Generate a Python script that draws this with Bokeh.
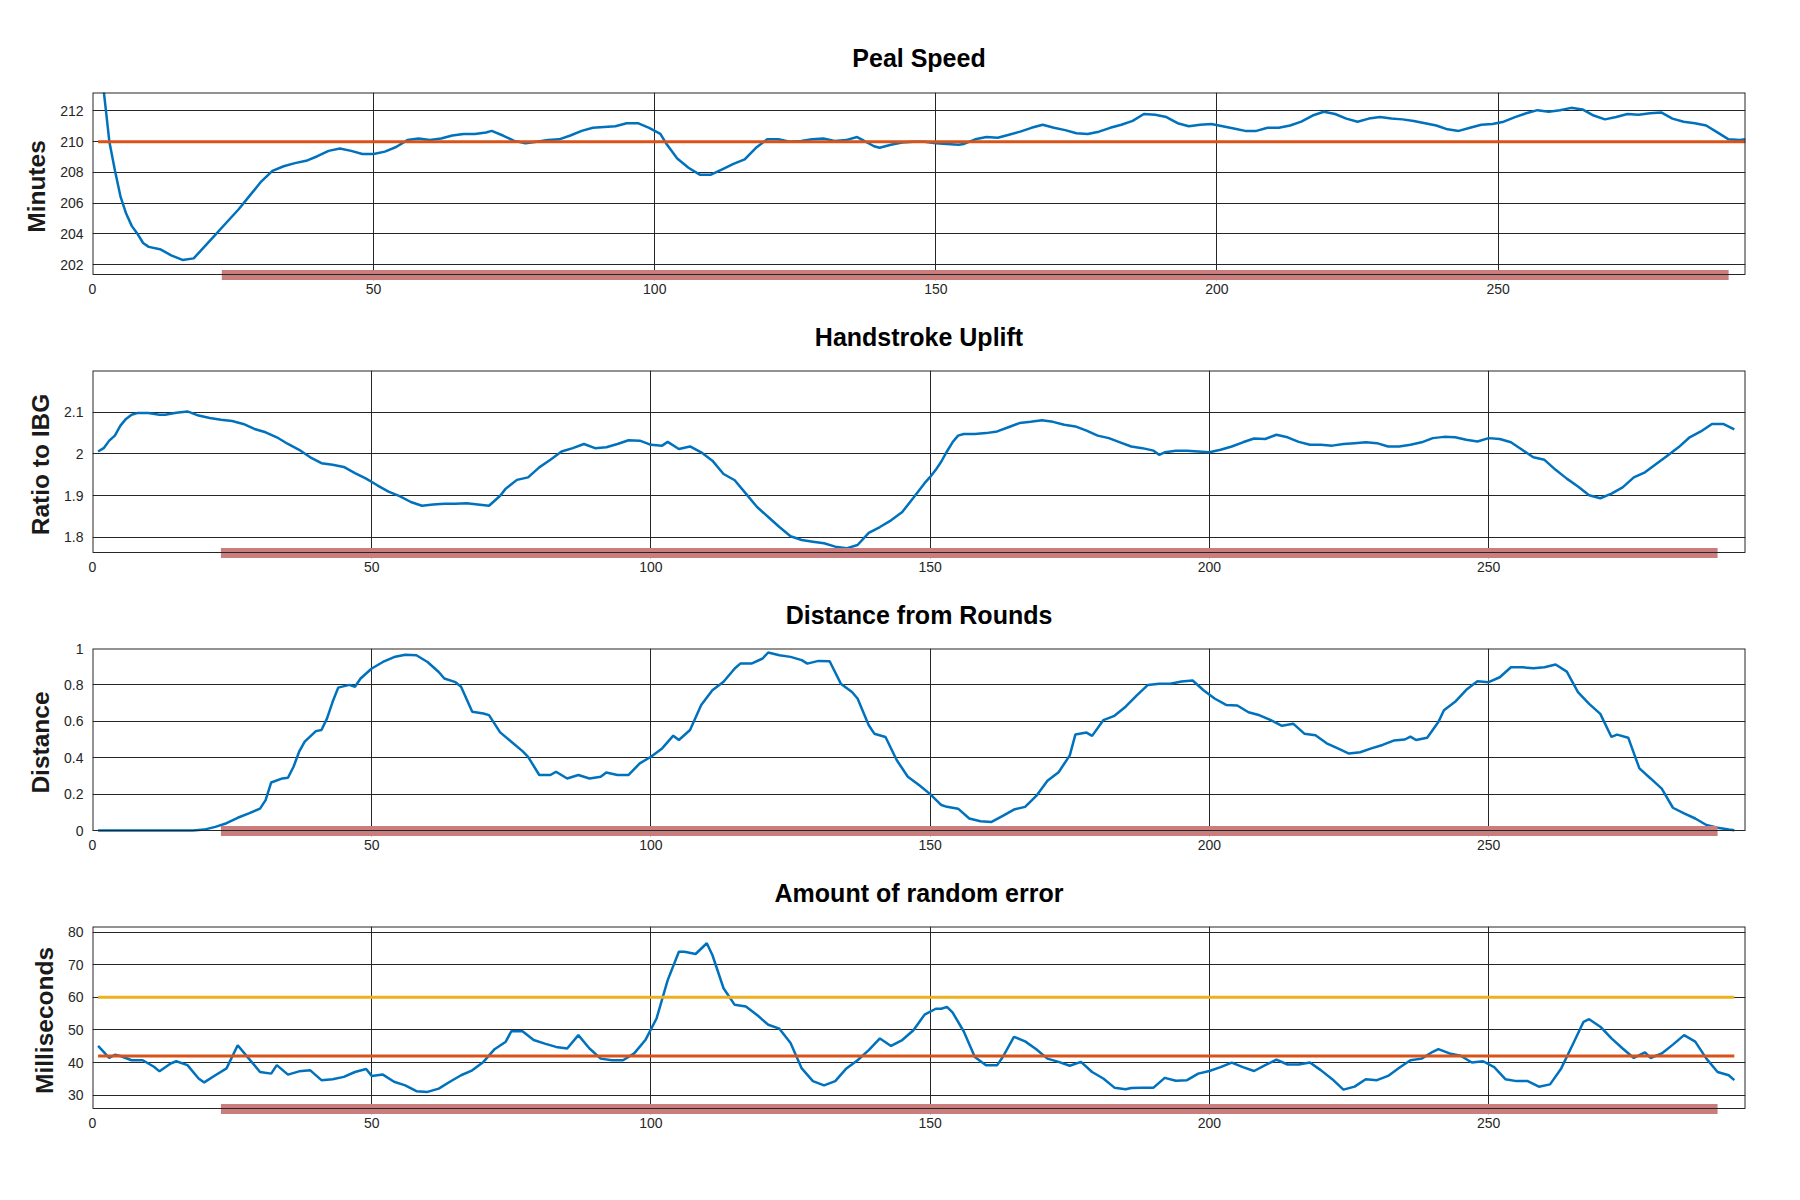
from bokeh.plotting import figure
from bokeh.layouts import column
from bokeh.models import FixedTicker, NumeralTickFormatter
from bokeh.embed import file_html
from bokeh.resources import INLINE

# ---------------- data ----------------
titles = ["Peal Speed", "Handstroke Uplift", "Distance from Rounds", "Amount of random error"]
ylabels = ["Minutes", "Ratio to IBG", "Distance", "Milliseconds"]
x_ticks = [0, 50, 100, 150, 200, 250]
x_limits = [294, 296, 296, 296]
y_limits = [(201.35, 213.2), (1.764, 2.2), (0.0, 1.0), (25.9, 81.74)]
y_ticks = [[202, 204, 206, 208, 210, 212],
           [1.8, 1.9, 2.0, 2.1],
           [0, 0.2, 0.4, 0.6, 0.8, 1.0],
           [30, 40, 50, 60, 70, 80]]

# highlighted change range (salmon bar)
bar_start = 23
bar_end = 291

# reference levels
speed_target = 210
error_mean = 42
error_limit = 60

speed_x = [1, 2, 3, 4, 5, 6, 7, 8, 9, 10, 12, 14, 16, 18, 20, 22, 24, 26, 28, 30, 32, 34, 36, 38, 40,
           42, 44, 46, 48, 50, 52, 54, 56, 58, 60, 62, 64, 66, 68, 70, 71, 73, 75, 77, 79, 81, 83, 85,
           87, 89, 91, 93, 95, 97, 99, 101, 102, 104, 106, 108, 110, 112, 114, 116, 118, 120, 122,
           124, 126, 128, 130, 132, 134, 136, 137, 139, 140, 142, 144, 146, 148, 150, 152, 154, 155,
           157, 159, 161, 163, 165, 167, 169, 171, 173, 175, 177, 179, 181, 183, 185, 187, 189, 191,
           193, 195, 197, 199, 201, 203, 205, 207, 209, 211, 213, 215, 217, 219, 221, 223, 225, 227,
           229, 231, 233, 235, 237, 239, 241, 243, 245, 247, 249, 251, 253, 255, 257, 259, 261, 263,
           265, 267, 269, 271, 273, 275, 277, 279, 281, 283, 285, 287, 289, 291, 293, 294]
speed_y = [217.0, 213.3, 210.0, 208.1, 206.4, 205.3, 204.5, 204.0, 203.4, 203.15, 203.0, 202.6, 202.3,
           202.4, 203.2, 204.0, 204.8, 205.6, 206.5, 207.4, 208.1, 208.4, 208.6, 208.75, 209.05,
           209.4, 209.55, 209.4, 209.2, 209.2, 209.35, 209.65, 210.1, 210.2, 210.1, 210.2, 210.4,
           210.5, 210.5, 210.6, 210.7, 210.4, 210.05, 209.9, 210.0, 210.1, 210.15, 210.4, 210.7,
           210.9, 210.95, 211.0, 211.2, 211.2, 210.9, 210.5, 209.9, 208.9, 208.3, 207.85, 207.85,
           208.2, 208.55, 208.85, 209.6, 210.15, 210.15, 210.0, 210.05, 210.15, 210.2, 210.05, 210.1,
           210.3, 210.1, 209.7, 209.6, 209.8, 209.95, 210.0, 210.0, 209.9, 209.85, 209.8, 209.85,
           210.15, 210.3, 210.25, 210.45, 210.65, 210.9, 211.1, 210.9, 210.75, 210.55, 210.5, 210.65,
           210.9, 211.1, 211.35, 211.8, 211.75, 211.6, 211.2, 211.0, 211.1, 211.15, 211.0, 210.85,
           210.7, 210.7, 210.9, 210.9, 211.05, 211.3, 211.7, 211.95, 211.8, 211.5, 211.3, 211.5,
           211.6, 211.5, 211.45, 211.35, 211.2, 211.05, 210.8, 210.7, 210.9, 211.1, 211.15, 211.3,
           211.6, 211.85, 212.05, 211.95, 212.05, 212.2, 212.1, 211.7, 211.45, 211.6, 211.8, 211.75,
           211.85, 211.9, 211.5, 211.3, 211.2, 211.05, 210.6, 210.15, 210.1, 210.15]

uplift_x = [1, 2, 3, 4, 5, 6, 7, 8, 10, 12, 13, 15, 17, 19, 21, 23, 25, 27, 29, 31, 33, 35, 37, 39,
            41, 43, 45, 47, 49, 51, 53, 55, 57, 59, 61, 63, 65, 67, 69, 71, 73, 74, 76, 78, 80, 82,
            84, 86, 88, 90, 92, 94, 96, 98, 100, 102, 103, 105, 107, 109, 111, 113, 115, 117, 119,
            121, 123, 125, 127, 129, 131, 133, 135, 137, 139, 141, 143, 145, 147, 149, 150, 151, 152,
            153, 154, 155, 156, 158, 160, 162, 164, 166, 168, 170, 172, 174, 176, 178, 180, 182, 184,
            186, 188, 190, 191, 192, 194, 196, 198, 200, 202, 204, 206, 208, 210, 212, 214, 216, 218,
            220, 222, 224, 226, 228, 230, 232, 234, 236, 238, 240, 242, 244, 246, 248, 250, 252, 254,
            256, 258, 260, 262, 264, 266, 268, 270, 272, 274, 276, 278, 280, 282, 284, 286, 288, 290,
            292, 294]
uplift_y = [2.006, 2.014, 2.032, 2.044, 2.068, 2.084, 2.094, 2.098, 2.098, 2.094, 2.094, 2.099, 2.102,
            2.092, 2.086, 2.082, 2.079, 2.072, 2.06, 2.052, 2.04, 2.024, 2.01, 1.992, 1.978, 1.974,
            1.969, 1.954, 1.941, 1.925, 1.91, 1.899, 1.885, 1.876, 1.879, 1.881, 1.881, 1.882, 1.879,
            1.876, 1.9, 1.917, 1.938, 1.944, 1.968, 1.986, 2.006, 2.014, 2.024, 2.014, 2.016, 2.024,
            2.033, 2.032, 2.022, 2.02, 2.029, 2.012, 2.018, 2.004, 1.984, 1.952, 1.937, 1.905, 1.873,
            1.849, 1.825, 1.803, 1.794, 1.79, 1.786, 1.778, 1.774, 1.782, 1.811, 1.825, 1.841, 1.861,
            1.895, 1.93, 1.945, 1.962, 1.982, 2.006, 2.028, 2.044, 2.048, 2.048, 2.05, 2.054, 2.064,
            2.074, 2.077, 2.081, 2.077, 2.07, 2.066, 2.056, 2.044, 2.038, 2.028, 2.018, 2.014, 2.008,
            1.998, 2.004, 2.008, 2.008, 2.006, 2.004, 2.01, 2.018, 2.028, 2.037, 2.036, 2.046, 2.04,
            2.029, 2.022, 2.022, 2.02, 2.024, 2.026, 2.028, 2.026, 2.018, 2.018, 2.022, 2.028, 2.038,
            2.041, 2.04, 2.034, 2.03, 2.038, 2.036, 2.028, 2.01, 1.992, 1.986, 1.962, 1.941, 1.922,
            1.901, 1.894, 1.905, 1.92, 1.944, 1.956, 1.976, 1.996, 2.016, 2.04, 2.054, 2.072, 2.072,
            2.059]

distance_x = [1, 18, 20, 22, 24, 26, 28, 30, 31, 32, 34, 35, 36, 37, 38, 40, 41, 42, 43, 44, 46, 47,
              48, 50, 52, 54, 56, 58, 60, 62, 63, 65, 66, 68, 70, 71, 73, 75, 77, 78, 80, 82, 83, 85,
              87, 89, 91, 92, 94, 96, 98, 100, 102, 104, 105, 107, 109, 111, 113, 115, 116, 118, 120,
              121, 123, 125, 127, 128, 130, 132, 134, 136, 137, 139, 140, 142, 144, 146, 148, 150,
              151, 152, 153, 155, 157, 159, 161, 163, 165, 167, 169, 171, 173, 175, 176, 178, 179,
              181, 183, 185, 187, 189, 191, 193, 195, 197, 199, 201, 203, 205, 207, 209, 211, 213,
              215, 217, 219, 221, 223, 225, 227, 229, 231, 233, 235, 236, 237, 239, 241, 242, 244,
              246, 248, 250, 252, 254, 256, 258, 260, 262, 264, 266, 268, 270, 272, 273, 275, 277,
              279, 281, 283, 285, 287, 289, 291, 293, 294]
distance_y = [0.0, 0.0, 0.005, 0.02, 0.04, 0.07, 0.094, 0.12, 0.167, 0.264, 0.286, 0.29, 0.35, 0.433,
              0.488, 0.546, 0.552, 0.616, 0.707, 0.785, 0.8, 0.79, 0.835, 0.89, 0.926, 0.953, 0.966,
              0.963, 0.926, 0.871, 0.835, 0.815, 0.79, 0.652, 0.643, 0.634, 0.539, 0.488, 0.436,
              0.405, 0.305, 0.305, 0.323, 0.286, 0.305, 0.286, 0.295, 0.319, 0.305, 0.305, 0.369,
              0.405, 0.451, 0.521, 0.497, 0.552, 0.689, 0.771, 0.817, 0.89, 0.917, 0.917, 0.945,
              0.978, 0.963, 0.954, 0.936, 0.917, 0.932, 0.93, 0.807, 0.761, 0.725, 0.578, 0.532,
              0.514, 0.387, 0.295, 0.25, 0.2, 0.17, 0.14, 0.13, 0.12, 0.066, 0.051, 0.047, 0.08,
              0.115, 0.13, 0.19, 0.273, 0.32, 0.413, 0.527, 0.538, 0.52, 0.606, 0.63, 0.68, 0.742,
              0.8, 0.806, 0.806, 0.819, 0.824, 0.769, 0.724, 0.69, 0.687, 0.65, 0.633, 0.606, 0.575,
              0.587, 0.532, 0.523, 0.479, 0.451, 0.423, 0.43, 0.451, 0.47, 0.494, 0.5, 0.516, 0.497,
              0.51, 0.596, 0.661, 0.707, 0.773, 0.82, 0.815, 0.842, 0.897, 0.897, 0.892, 0.897,
              0.912, 0.873, 0.76, 0.696, 0.641, 0.514, 0.527, 0.51, 0.341, 0.286, 0.23, 0.125,
              0.094, 0.066, 0.03, 0.015, 0.005, 0.002]

error_x = [1, 2, 3, 4, 5, 7, 9, 11, 12, 14, 15, 17, 19, 20, 22, 24, 26, 28, 30, 32, 33, 35, 37, 39,
           41, 43, 45, 47, 49, 50, 52, 54, 56, 58, 60, 62, 64, 66, 68, 70, 72, 74, 75, 77, 79, 81, 83,
           85, 87, 89, 91, 93, 95, 97, 99, 101, 103, 105, 106, 108, 110, 111, 113, 115, 117, 119,
           121, 123, 125, 127, 129, 131, 133, 135, 137, 139, 141, 143, 145, 147, 149, 151, 152, 153,
           154, 156, 158, 160, 162, 163, 165, 167, 169, 171, 173, 175, 177, 179, 181, 183, 185, 186,
           188, 190, 192, 194, 196, 198, 200, 202, 204, 206, 208, 210, 212, 214, 216, 218, 220, 222,
           224, 226, 228, 230, 232, 234, 236, 238, 240, 241, 243, 245, 247, 249, 251, 253, 255, 257,
           259, 261, 263, 265, 267, 268, 270, 272, 274, 276, 278, 279, 281, 283, 285, 287, 289, 291,
           293, 294]
error_y = [45.1, 43.3, 41.4, 42.4, 42.0, 40.7, 40.7, 38.7, 37.3, 39.7, 40.4, 39.2, 35.1, 33.9, 36.1,
           38.2, 45.3, 41.2, 37.1, 36.6, 39.2, 36.3, 37.3, 37.6, 34.6, 34.9, 35.6, 37.1, 38.0, 35.9,
           36.3, 34.1, 33.0, 31.2, 31.0, 32.0, 34.1, 36.1, 37.6, 40.2, 44.1, 46.4, 49.6, 49.6, 46.9,
           45.8, 44.8, 44.3, 48.4, 44.3, 41.2, 40.7, 40.7, 42.8, 46.9, 53.5, 65.3, 74.0, 74.0, 73.3,
           76.6, 73.0, 62.8, 57.7, 57.2, 54.6, 51.6, 50.4, 46.0, 38.2, 34.3, 33.0, 34.3, 38.2, 40.7,
           43.8, 47.4, 45.1, 46.9, 49.9, 54.7, 56.5, 56.5, 57.1, 55.4, 49.6, 41.7, 39.2, 39.2, 41.7,
           47.9, 46.5, 44.1, 41.2, 40.2, 39.0, 40.2, 37.1, 35.1, 32.3, 31.8, 32.2, 32.3, 32.3, 35.3,
           34.4, 34.6, 36.6, 37.4, 38.6, 40.0, 38.6, 37.4, 39.2, 40.9, 39.4, 39.4, 40.0, 37.6, 34.9,
           31.7, 32.6, 34.9, 34.6, 35.9, 38.4, 40.7, 41.2, 43.3, 44.1, 42.8, 42.1, 40.0, 40.4, 38.6,
           34.9, 34.3, 34.3, 32.6, 33.3, 38.2, 45.3, 52.5, 53.3, 51.0, 47.4, 44.3, 41.4, 43.1, 41.4,
           42.8, 45.5, 48.4, 46.4, 41.2, 37.1, 36.1, 34.6]

series_x = [speed_x, uplift_x, distance_x, error_x]
series_y = [speed_y, uplift_y, distance_y, error_y]
ref_lines = [[(speed_target, "#D95319")], [], [],
             [(error_limit, "#EDB120"), (error_mean, "#D95319")]]

# ---------------- styling ----------------
FONT = "Liberation Sans"
BLUE = "#0072BD"
BAR = "#C97D7D"
INK = "#262626"
FRAME_W, FRAME_H = 1653, 182
EXT = 6          # extra pixels below the axes box, room for the bar
LEFT = 92
TOP_FIRST, TOP = 92, 70
BOTTOM = 34 - EXT - 8


def make_panel(i):
    ymin, ymax = y_limits[i]
    x_end = x_limits[i]
    unit = (ymax - ymin) / FRAME_H  # data units per pixel
    p = figure(frame_width=FRAME_W, frame_height=FRAME_H + EXT,
               x_range=(0, x_end), y_range=(ymin - EXT * unit, ymax),
               output_backend="svg", toolbar_location=None,
               min_border_left=LEFT, min_border_right=30,
               min_border_top=TOP_FIRST if i == 0 else TOP, min_border_bottom=BOTTOM)
    p.background_fill_color = "white"
    p.border_fill_color = "white"
    p.outline_line_color = None

    p.title.text = titles[i]
    p.title.align = "center"
    p.title.text_font = FONT
    p.title.text_font_size = "25px"
    p.title.text_font_style = "bold"
    p.title.text_color = "#000000"
    p.title.standoff = 41 if i == 0 else 39

    p.xaxis.ticker = FixedTicker(ticks=x_ticks)
    p.yaxis.ticker = FixedTicker(ticks=y_ticks[i])
    if i in (1, 2):
        p.yaxis.formatter = NumeralTickFormatter(format="0.[0]")
    for ax in (p.xaxis, p.yaxis):
        ax.axis_line_color = None
        ax.major_tick_line_color = None
        ax.minor_tick_line_color = None
        ax.major_tick_out = 0
        ax.major_tick_in = 0
        ax.major_label_text_font = FONT
        ax.major_label_text_font_size = "14px"
        ax.major_label_text_color = INK
    p.xaxis.major_label_standoff = 9 - EXT
    p.yaxis.major_label_standoff = 9
    p.yaxis.axis_label = ylabels[i]
    p.yaxis.axis_label_text_font = FONT
    p.yaxis.axis_label_text_font_size = "24.5px"
    p.yaxis.axis_label_text_font_style = "bold"
    p.yaxis.axis_label_text_color = "#1a1a1a"
    p.yaxis.axis_label_standoff = 7

    p.xgrid.ticker = FixedTicker(ticks=[t for t in x_ticks if 0 < t < x_end])
    p.xgrid.grid_line_color = INK
    p.ygrid.grid_line_color = INK
    p.xgrid.grid_line_width = 1
    p.ygrid.grid_line_width = 1

    xs, ys = series_x[i], series_y[i]
    p.line(xs, ys, line_color=BLUE, line_width=2.5)
    for level, color in ref_lines[i]:
        p.line([xs[0], xs[-1]], [level, level], line_color=color, line_width=3)

    # axes box: left, top, right (half of a 2px line is clipped at the frame edge)
    p.line([0, 0, x_end, x_end], [ymin, ymax, ymax, ymin], line_color=INK, line_width=2)

    # salmon bar straddling the bottom of the axes box
    p.quad(left=[bar_start], right=[bar_end],
           bottom=[ymin - 5.5 * unit], top=[ymin + 4.5 * unit],
           fill_color=BAR, fill_alpha=1.0, line_color=None)

    # bottom edge of the axes box, on top of the bar
    p.line([0, x_end], [ymin, ymin], line_color=INK, line_width=1)
    return p


panels = [make_panel(i) for i in range(4)]
layout = column(*panels, spacing=0)

open("out.html", "w").write(file_html(layout, INLINE))
